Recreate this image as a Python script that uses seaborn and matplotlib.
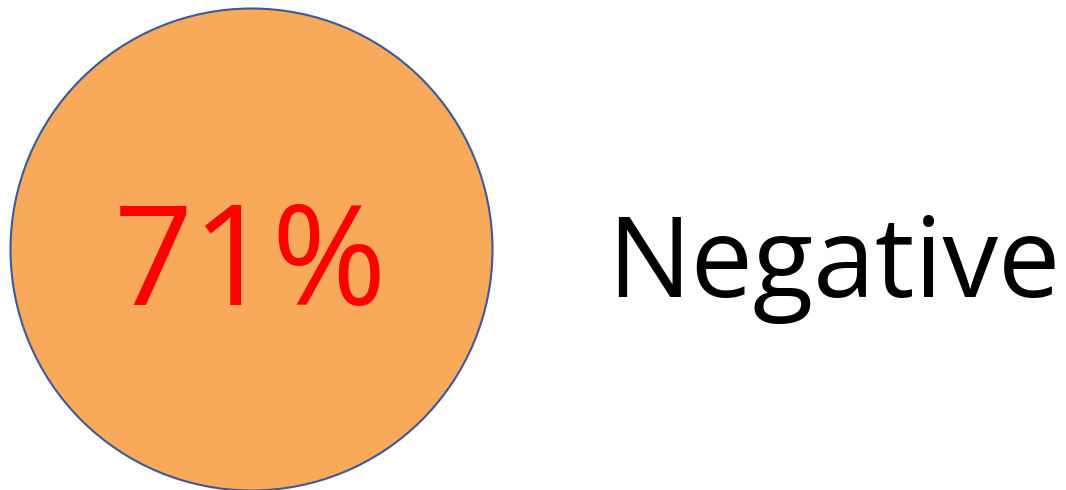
import pandas as pd
import seaborn as sns
import matplotlib.pyplot as plt

# chart values
share = [71]
labels = ["Negative"]

sns.set_theme(style="white")
plt.rcParams['font.family'] = ['Open Sans', 'DejaVu Sans']

df = pd.DataFrame({"x": [250.5], "y": [249], "share": share, "label": labels})

fig = plt.figure(figsize=(10.66, 4.9), dpi=100)
ax = fig.add_axes([0, 0, 1, 1])

# one big bubble, diameter ~482 px -> points
diam_pt = 482 * 72 / 100
sns.scatterplot(data=df, x="x", y="y", s=diam_pt ** 2, color="#F8A95A",
                edgecolor="#3A5A9A", linewidth=1.5, legend=False, ax=ax)

for _, row in df.iterrows():
    ax.text(row["x"], 305, f"{row['share']}%", color="#FF0000", fontsize=100,
            ha="center", va="baseline")
    ax.text(834, 297, row["label"], color="black", fontsize=80,
            ha="center", va="baseline")

ax.set_xlim(0, 1066)
ax.set_ylim(490, 0)
ax.axis("off")

fig.savefig("out.png", dpi=100)
